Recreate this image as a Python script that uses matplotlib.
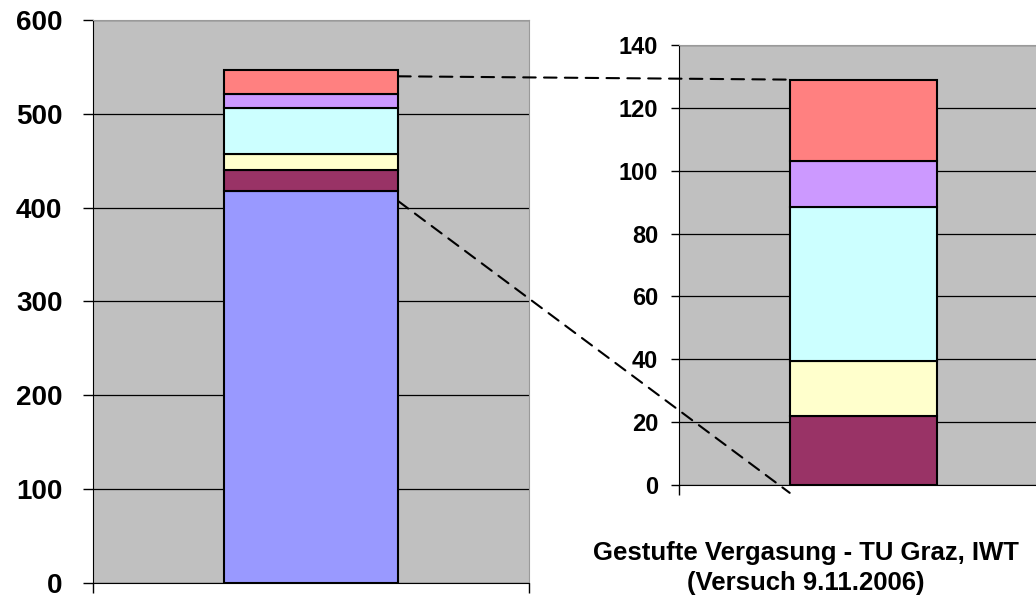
import matplotlib.pyplot as plt
from matplotlib.patches import ConnectionPatch

plt.rcParams['font.family'] = ['Liberation Sans', 'DejaVu Sans']
plt.rcParams['font.weight'] = 'bold'

# stacked segments, bottom to top
left_values = [418, 22, 17.5, 49, 14.5, 26]
left_colors = ['#9999FF', '#993366', '#FFFFCC', '#CCFFFF', '#CC99FF', '#FF8080']
right_values = [22, 17.5, 49, 14.5, 26]
right_colors = ['#993366', '#FFFFCC', '#CCFFFF', '#CC99FF', '#FF8080']

left_ticks = [0, 100, 200, 300, 400, 500, 600]
right_ticks = [0, 20, 40, 60, 80, 100, 120, 140]

title_1 = "Gestufte Vergasung - TU Graz, IWT"
title_2 = "(Versuch 9.11.2006)"

bar_w = 0.4


def stacked(ax, values, colors):
    bottom = 0
    for v, c in zip(values, colors):
        ax.bar(0, v, bar_w, bottom=bottom, color=c, edgecolor='black', linewidth=1.5, zorder=3)
        bottom += v
    return bottom


def style(ax, ticks, size, pad, tlen):
    ax.set_facecolor('#C0C0C0')
    ax.set_xlim(-0.5, 0.5)
    ax.set_ylim(ticks[0], ticks[-1])
    ax.set_yticks(ticks)
    ax.set_xticks([-0.5, 0.5])
    ax.set_xticklabels([])
    ax.yaxis.grid(True, color='black', linewidth=0.9, zorder=0)
    ax.set_axisbelow(True)
    ax.tick_params(axis='y', direction='out', length=tlen, width=1, pad=pad, labelsize=size)
    ax.tick_params(axis='x', direction='out', length=7, width=1)
    for lbl in ax.get_yticklabels():
        lbl.set_fontweight('bold')
    ax.spines['left'].set_color('black')
    ax.spines['bottom'].set_color('black')
    ax.spines['top'].set_color('#9A9A9A')
    ax.spines['right'].set_color('#9A9A9A')


fig = plt.figure(figsize=(10.36, 5.97), dpi=100)
ax1 = fig.add_axes([0.0898, 0.0235, 0.4208, 0.943])
ax2 = fig.add_axes([0.6554, 0.1876, 0.3562, 0.737])

left_total = stacked(ax1, left_values, left_colors)
right_total = stacked(ax2, right_values, right_colors)

style(ax1, left_ticks, 20, 15, 7)
style(ax2, right_ticks, 17, 9, 6)

# dashed connectors between the two bars
con1 = ConnectionPatch(xyA=(bar_w / 2, left_total - 7), coordsA='data', axesA=ax1,
                       xyB=(-bar_w / 2 - 0.01, right_total), coordsB='data', axesB=ax2,
                       color='black', linewidth=1.5, linestyle=(0, (6, 4)))
con2 = ConnectionPatch(xyA=(bar_w / 2, left_values[0] - 11), coordsA='data', axesA=ax1,
                       xyB=(-bar_w / 2, -2.5), coordsB='data', axesB=ax2,
                       color='black', linewidth=1.5, linestyle=(0, (6, 4)))
for con in (con1, con2):
    con.set_annotation_clip(False)
    fig.add_artist(con)

fig.text(0.778, 0.0737, title_1, ha='center', va='center', fontsize=18.5, fontweight='bold')
fig.text(0.778, 0.0235, title_2, ha='center', va='center', fontsize=18.5, fontweight='bold')

fig.savefig('out.png', dpi=100)
